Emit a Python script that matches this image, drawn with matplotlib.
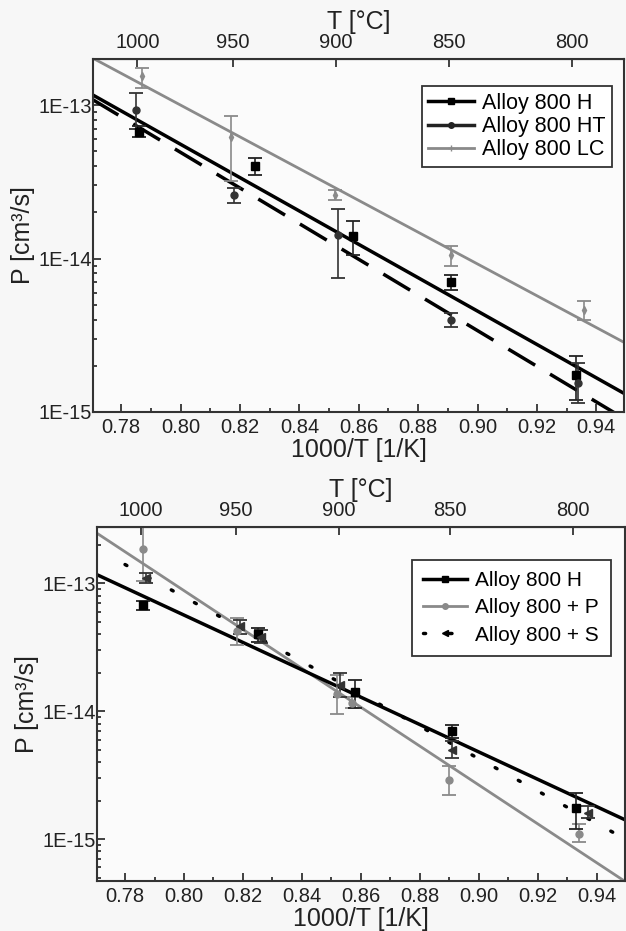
import matplotlib
matplotlib.use('Agg')
import matplotlib.pyplot as plt
from matplotlib.lines import Line2D
from matplotlib import ticker
import numpy as np

plt.rcParams['font.family'] = ['Liberation Sans', 'DejaVu Sans']

# ---- data (1000/T in 1/K, P in cm^3/s) ----
# upper panel
x_H = [0.786, 0.825, 0.858, 0.891, 0.933]
P_H = [6.7e-14, 4.0e-14, 1.4e-14, 7.0e-15, 1.75e-15]
H_lo = [6.2e-14, 3.5e-14, 1.05e-14, 6.2e-15, 1.2e-15]
H_hi = [7.3e-14, 4.5e-14, 1.75e-14, 7.8e-15, 2.3e-15]

x_HT = [0.785, 0.818, 0.853, 0.891, 0.934]
P_HT = [9.3e-14, 2.6e-14, 1.43e-14, 4.0e-15, 1.55e-15]
HT_lo = [7.0e-14, 2.3e-14, 7.5e-15, 3.6e-15, 1.15e-15]
HT_hi = [1.2e-13, 2.9e-14, 2.1e-14, 4.4e-15, 2.1e-15]

x_LC = [0.787, 0.817, 0.852, 0.891, 0.936]
P_LC = [1.55e-13, 6.2e-14, 2.6e-14, 1.05e-14, 4.6e-15]
LC_lo = [1.3e-13, 3.2e-14, 2.4e-14, 9.0e-15, 4.0e-15]
LC_hi = [1.75e-13, 8.5e-14, 2.8e-14, 1.2e-14, 5.3e-15]

fit_x = [0.77, 0.95]
fit_H = [1.18e-13, 1.3e-15]
fit_HT = [1.1e-13, 8.9e-16]
fit_LC = [2.05e-13, 2.8e-15]

# lower panel
x_P = [0.786, 0.818, 0.852, 0.857, 0.890, 0.934]
P_P = [1.85e-13, 4.2e-14, 1.35e-14, 1.15e-14, 2.9e-15, 1.1e-15]
P_lo = [1.05e-13, 3.3e-14, 9.5e-15, 1.05e-14, 2.2e-15, 9.5e-16]
P_hi = [2.9e-13, 5.3e-14, 1.9e-14, 1.3e-14, 3.7e-15, 1.3e-15]

x_S = [0.787, 0.819, 0.826, 0.853, 0.891, 0.937]
P_S = [1.1e-13, 4.6e-14, 3.8e-14, 1.6e-14, 5.0e-15, 1.6e-15]
S_lo = [1.0e-13, 4.0e-14, 3.4e-14, 1.3e-14, 4.3e-15, 1.45e-15]
S_hi = [1.2e-13, 5.2e-14, 4.3e-14, 2.0e-14, 5.8e-15, 1.8e-15]

fit_H2 = [1.18e-13, 1.4e-15]
fit_P = [2.5e-13, 4.6e-16]
fit_S_x = [0.78, 0.948]
fit_S = [1.4e-13, 1.05e-15]

T_ticks = [1000, 950, 900, 850, 800]

GRAY = '#8a8a8a'
TXT = '#222222'
TICK_FS = 14.5
LABEL_FS = 18


def yerr(p, lo, hi):
    p = np.array(p)
    return [p - np.array(lo), np.array(hi) - p]


def style_axes(ax, ylim):
    ax.set_facecolor('#fbfbfb')
    ax.set_yscale('log')
    ax.set_xlim(0.7705, 0.9495)
    ax.set_ylim(*ylim)
    ax.xaxis.set_major_locator(ticker.MultipleLocator(0.02))
    ax.xaxis.set_minor_locator(ticker.MultipleLocator(0.01))
    ax.xaxis.set_major_formatter(ticker.FormatStrFormatter('%.2f'))
    ax.yaxis.set_major_locator(ticker.LogLocator(base=10))
    ax.yaxis.set_minor_locator(ticker.LogLocator(base=10, subs=np.arange(2, 10)))
    ax.yaxis.set_major_formatter(ticker.FuncFormatter(
        lambda v, pos: '1E%d' % int(round(np.log10(v)))))
    ax.yaxis.set_minor_formatter(ticker.NullFormatter())
    ax.tick_params(axis='both', which='both', direction='in', labelsize=TICK_FS,
                   colors=TXT, width=1.2)
    ax.tick_params(axis='x', which='major', length=6, pad=4)
    ax.tick_params(axis='x', which='minor', length=3)
    ax.tick_params(axis='y', which='major', length=6, pad=1)
    ax.tick_params(axis='y', which='minor', length=3)
    ax.tick_params(right=False, top=False, which='both')
    for s in ax.spines.values():
        s.set_linewidth(1.5)
        s.set_color('#333333')
    ax.set_xlabel('1000/T [1/K]', fontsize=LABEL_FS, color=TXT, labelpad=1)
    ax.set_ylabel('P [cm³/s]', fontsize=LABEL_FS, color=TXT, labelpad=2)
    top = ax.secondary_xaxis('top', functions=(lambda x: 1000.0 / np.asarray(x) - 273.15,
                                               lambda t: 1000.0 / (np.asarray(t) + 273.15)))
    top.set_xticks(T_ticks)
    top.set_xticklabels([str(t) for t in T_ticks])
    top.tick_params(direction='in', length=6, width=1.2, labelsize=TICK_FS,
                    colors=TXT, pad=5)
    top.set_xlabel('T [°C]', fontsize=LABEL_FS, color=TXT, labelpad=3)


fig = plt.figure(figsize=(6.26, 9.31), dpi=100, facecolor='#f7f7f7')
ax1 = fig.add_axes([0.1486, 0.5575, 0.849, 0.379])
ax2 = fig.add_axes([0.155, 0.0537, 0.843, 0.380])

eb = dict(capsize=5, elinewidth=1.2, capthick=1.3, linestyle='none')
leg_kw = dict(loc='upper right', fancybox=False, edgecolor='#333333',
              framealpha=1, handlelength=2.1, handletextpad=0.4)

# upper panel
style_axes(ax1, (1e-15, 2.0e-13))
ax1.plot(fit_x, fit_LC, color=GRAY, lw=2)
ax1.plot(fit_x, fit_H, color='black', lw=2.5)
ax1.plot(fit_x, fit_HT, color='black', lw=2.5, dashes=(9, 5))
ax1.errorbar(x_LC, P_LC, yerr=yerr(P_LC, LC_lo, LC_hi), marker='d', ms=4,
             color=GRAY, ecolor=GRAY, **eb)
ax1.errorbar(x_H, P_H, yerr=yerr(P_H, H_lo, H_hi), marker='s', ms=6,
             color='black', ecolor='#222222', **eb)
ax1.errorbar(x_HT, P_HT, yerr=yerr(P_HT, HT_lo, HT_hi), marker='o', ms=5,
             color='#333333', ecolor='#333333', **eb)
h1 = [Line2D([], [], color='black', lw=2.5, marker='s', ms=5),
      Line2D([], [], color='#222222', lw=2.5, marker='o', ms=4),
      Line2D([], [], color=GRAY, lw=2, marker='+', ms=5)]
leg1 = ax1.legend(h1, ['Alloy 800 H', 'Alloy 800 HT', 'Alloy 800 LC'],
                  bbox_to_anchor=(0.997, 0.953), borderpad=0.3, labelspacing=0.1,
                  fontsize=15.5, **leg_kw)
leg1.get_frame().set_linewidth(1.3)

# lower panel
style_axes(ax2, (4.7e-16, 2.74e-13))
ax2.plot(fit_x, fit_P, color=GRAY, lw=2)
ax2.plot(fit_x, fit_H2, color='black', lw=2.5)
ax2.plot(fit_S_x, fit_S, color='black', lw=2.5, linestyle=(0, (0.6, 7)),
         dash_capstyle='round')
ax2.errorbar(x_P, P_P, yerr=yerr(P_P, P_lo, P_hi), marker='o', ms=5,
             color=GRAY, ecolor=GRAY, **eb)
ax2.errorbar(x_H, P_H, yerr=yerr(P_H, H_lo, H_hi), marker='s', ms=6,
             color='black', ecolor='#222222', **eb)
ax2.errorbar(x_S, P_S, yerr=yerr(P_S, S_lo, S_hi), marker='<', ms=6,
             color='#333333', ecolor='#333333', **eb)
h2 = [Line2D([], [], color='black', lw=2.5, marker='s', ms=5),
      Line2D([], [], color=GRAY, lw=2, marker='o', ms=4),
      Line2D([], [], color='black', lw=2.5, linestyle=(0, (0.6, 7)),
             dash_capstyle='round', marker='<', ms=5, markevery=[1])]
leg2 = ax2.legend(h2, ['Alloy 800 H', 'Alloy 800 + P', 'Alloy 800 + S'],
                  bbox_to_anchor=(0.993, 0.938), borderpad=0.55, labelspacing=0.4,
                  fontsize=15, **leg_kw)
leg2.get_frame().set_linewidth(1.3)

fig.savefig('out.png', dpi=100, facecolor=fig.get_facecolor())
